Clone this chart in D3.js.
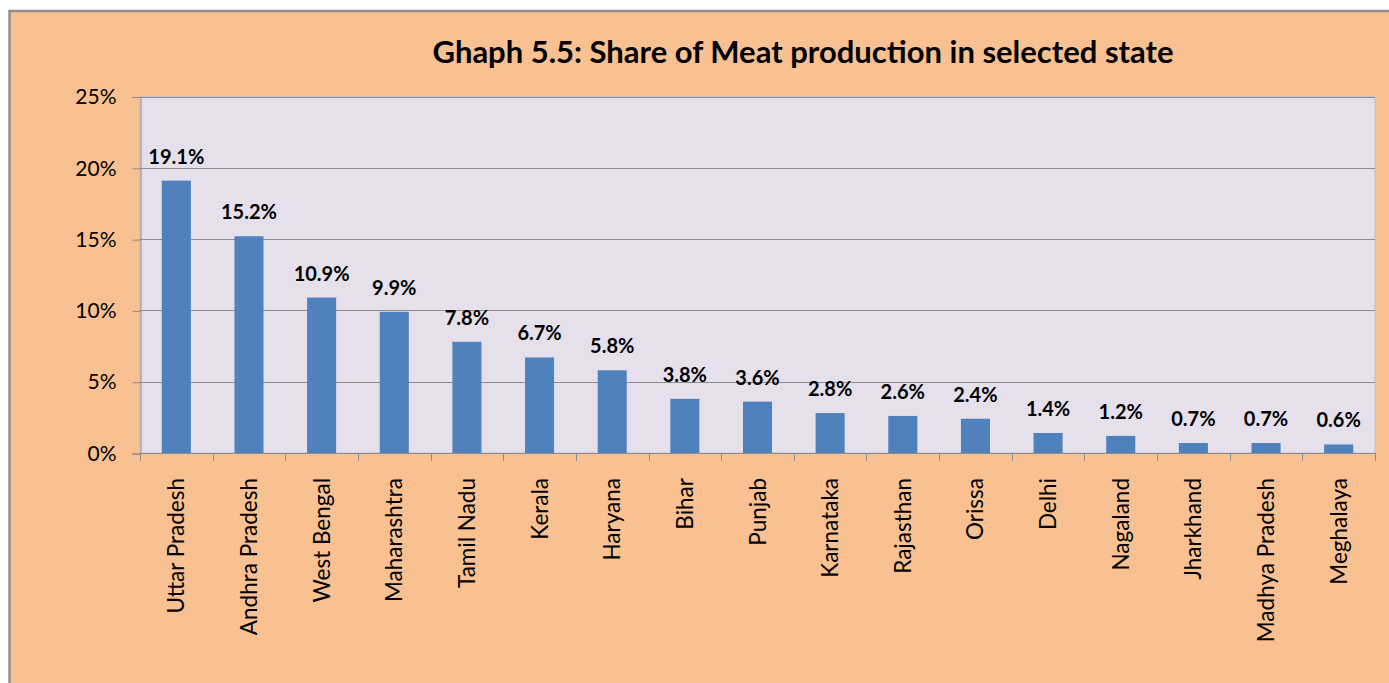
<!DOCTYPE html>
<html>
<head>
<meta charset="utf-8">
<script src="https://cdn.jsdelivr.net/npm/d3@7"></script>
<style>
  html, body { margin: 0; padding: 0; background: #ffffff; }
  svg { display: block; }
  text { font-family: Lato, "Open Sans", sans-serif; fill: #000; }
</style>
</head>
<body>
<svg id="chart" width="1389" height="683"></svg>
<script>
// State-wise share of meat production
const states = ["Uttar Pradesh", "Andhra Pradesh", "West Bengal", "Maharashtra", "Tamil Nadu",
  "Kerala", "Haryana", "Bihar", "Punjab", "Karnataka", "Rajasthan", "Orissa", "Delhi",
  "Nagaland", "Jharkhand", "Madhya Pradesh", "Meghalaya"];
const shares = [19.1, 15.2, 10.9, 9.9, 7.8, 6.7, 5.8, 3.8, 3.6, 2.8, 2.6, 2.4, 1.4, 1.2, 0.7, 0.7, 0.6];
const yTicks = [0, 5, 10, 15, 20, 25];
const title = "Ghaph 5.5: Share of Meat production in selected state";

const svg = d3.select("#chart");
const W = 1389, H = 683;

// outer chart frame
svg.append("rect")
  .attr("x", 9.5).attr("y", 11).attr("width", W + 10).attr("height", H + 10)
  .attr("fill", "#F9C091").attr("stroke", "#8f8f8f").attr("stroke-width", 2.5);

const plot = { left: 140, right: 1375, top: 96.5, bottom: 453 };

const x = d3.scaleBand().domain(states).range([plot.left, plot.right]).paddingInner(0.6).paddingOuter(0.3);
const band = d3.scaleBand().domain(states).range([plot.left, plot.right]);
const y = d3.scaleLinear().domain([0, 25]).range([plot.bottom, plot.top]);

// plot area
svg.append("rect")
  .attr("x", plot.left).attr("y", plot.top)
  .attr("width", plot.right - plot.left).attr("height", plot.bottom - plot.top)
  .attr("fill", "#E5E0EC").attr("stroke", "#c4c0c8").attr("stroke-width", 1);

// gridlines
svg.append("g").selectAll("line").data(yTicks).join("line")
  .attr("x1", plot.left).attr("x2", plot.right)
  .attr("y1", d => Math.round(y(d)) + 0.5).attr("y2", d => Math.round(y(d)) + 0.5)
  .attr("stroke", "#8c8c8c").attr("stroke-width", 1);

// y axis
const yAxis = d3.axisLeft(y).tickValues(yTicks).tickFormat(d => d + "%").tickSize(8).tickPadding(16);
const gy = svg.append("g").attr("transform", `translate(${plot.left + 0.5},0.5)`).call(yAxis);
gy.select(".domain").attr("stroke", "#8c8c8c");
gy.selectAll(".tick line").attr("stroke", "#8c8c8c");
gy.selectAll(".tick text").attr("font-size", 21).attr("font-family", "Lato, sans-serif").attr("fill", "#000");

// x axis ticks at category boundaries
const bounds = states.map(s => band(s)).concat([plot.right]);
svg.append("g").selectAll("line").data(bounds).join("line")
  .attr("x1", d => Math.round(d) + 0.5).attr("x2", d => Math.round(d) + 0.5)
  .attr("y1", plot.bottom).attr("y2", plot.bottom + 8)
  .attr("stroke", "#8c8c8c");
svg.append("line")
  .attr("x1", plot.left).attr("x2", plot.right)
  .attr("y1", plot.bottom + 0.5).attr("y2", plot.bottom + 0.5)
  .attr("stroke", "#8c8c8c");

// bars
svg.append("g").selectAll("rect").data(shares).join("rect")
  .attr("x", (d, i) => x(states[i]))
  .attr("width", x.bandwidth())
  .attr("y", d => y(d))
  .attr("height", d => plot.bottom - y(d))
  .attr("fill", "#4F81BD");

// value labels
svg.append("g").selectAll("text").data(shares).join("text")
  .attr("x", (d, i) => x(states[i]) + x.bandwidth() / 2)
  .attr("y", d => y(d) - 17)
  .attr("text-anchor", "middle")
  .attr("font-size", 20).attr("font-weight", "bold")
  .text(d => d.toFixed(1) + "%");

// category labels, rotated
svg.append("g").selectAll("text").data(states).join("text")
  .attr("transform", d => `translate(${band(d) + band.bandwidth() / 2 + 8},${478}) rotate(-90)`)
  .attr("text-anchor", "end")
  .attr("font-size", 22.5)
  .text(d => d);

// title
svg.append("text")
  .attr("x", 803).attr("y", 63)
  .attr("text-anchor", "middle")
  .attr("font-size", 31).attr("font-weight", "bold")
  .text(title);
</script>
</body>
</html>
